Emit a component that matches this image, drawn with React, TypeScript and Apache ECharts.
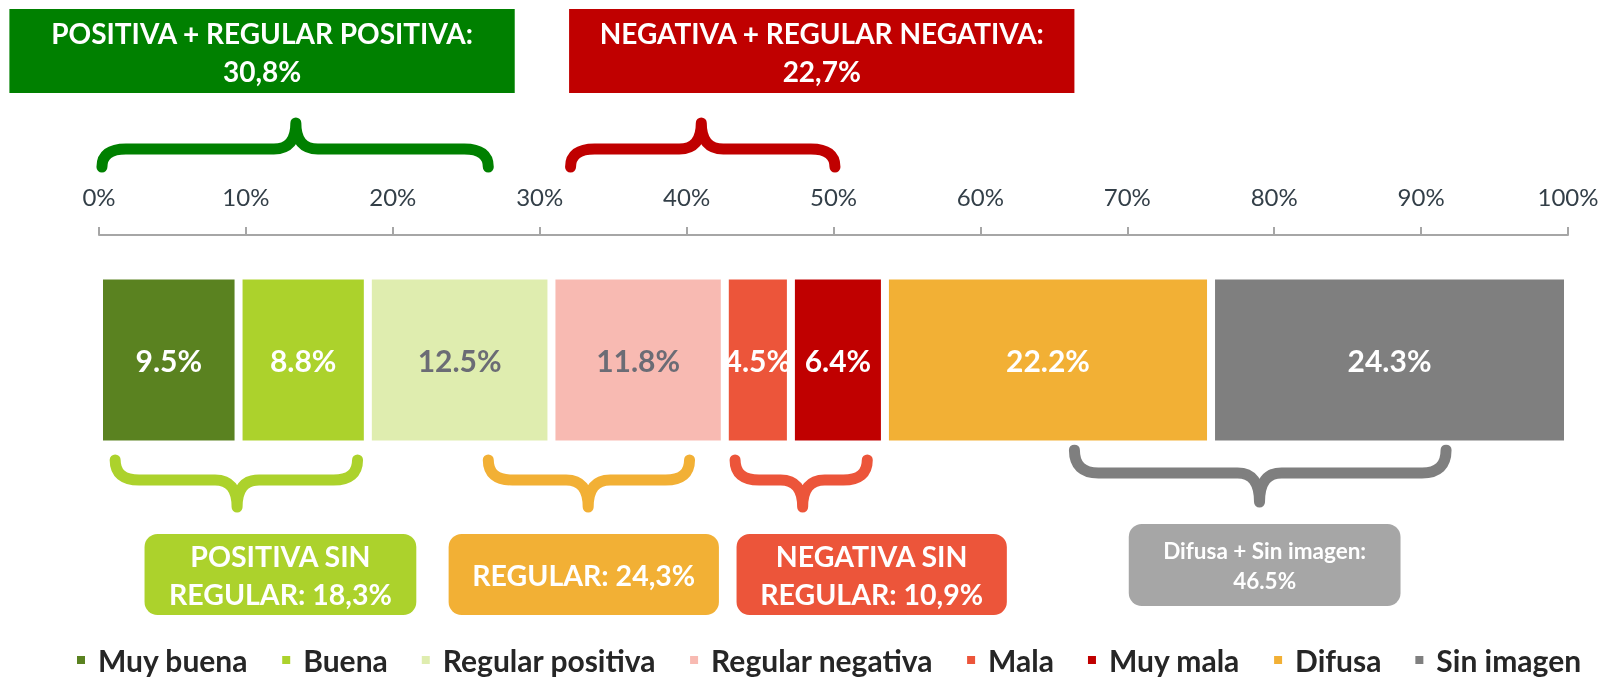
import React, { useEffect, useRef } from "react";
import * as echarts from "echarts";

const categories = ["Muy buena", "Buena", "Regular positiva", "Regular negativa", "Mala", "Muy mala", "Difusa", "Sin imagen"];
const values = [9.5, 8.8, 12.5, 11.8, 4.5, 6.4, 22.2, 24.3];
const colors = ["#5a8220", "#acd22c", "#dfedaf", "#f8bab2", "#ec553a", "#c00000", "#f2b035", "#7f7f7f"];
const labelColors = ["#ffffff", "#ffffff", "#6b6c75", "#6b6c75", "#ffffff", "#ffffff", "#ffffff", "#ffffff"];

// Callouts above the axis (brace spans and box spans in % of axis)
const topTexts = ["POSITIVA + REGULAR POSITIVA:\n30,8%", "NEGATIVA + REGULAR NEGATIVA:\n22,7%"];
const topColors = ["#008000", "#c00000"];
const topBraceFrom = [0.2, 32.1];
const topBraceTo = [26.5, 50.1];
const topBraceTip = [13.4, 41.0];
const topBoxFrom = [-6.1, 32.0];
const topBoxTo = [28.3, 66.4];

// Callouts below the bar
const bottomTexts = ["POSITIVA SIN\nREGULAR: 18,3%", "REGULAR: 24,3%", "NEGATIVA SIN\nREGULAR: 10,9%", "Difusa + Sin imagen:\n46.5%"];
const bottomColors = ["#acd22c", "#f2b035", "#ec553a", "#a6a6a6"];
const bottomBraceColors = ["#acd22c", "#f2b035", "#ec553a", "#7f7f7f"];
const bottomBraceFrom = [1.1, 26.5, 43.3, 66.4];
const bottomBraceTo = [17.6, 40.2, 52.3, 91.7];
const bottomBraceTip = [9.4, 33.3, 47.9, 79.0];
const bottomBoxFrom = [3.1, 23.8, 43.4, 70.1];
const bottomBoxTo = [21.6, 42.2, 61.8, 88.6];

const FONT = "Lato";

function bracePath(x0: number, x1: number, xt: number, yEnd: number, yBar: number, yTip: number, r: number, rt: number) {
  return (
    `M${x0},${yEnd} Q${x0},${yBar} ${x0 + r},${yBar} L${xt - rt},${yBar} Q${xt},${yBar} ${xt},${yTip} ` +
    `M${xt},${yTip} Q${xt},${yBar} ${xt + rt},${yBar} L${x1 - r},${yBar} Q${x1},${yBar} ${x1},${yEnd}`
  );
}

export default function App() {
  const ref = useRef<HTMLDivElement>(null);
  useEffect(() => {
    if (!ref.current) return;
    const chart = echarts.init(ref.current, null, { renderer: "svg" });
    const series = categories.map((name, i) => ({
      name,
      type: "bar",
      stack: "total",
      barWidth: 169,
      data: [values[i]],
      itemStyle: { color: colors[i], borderColor: "#ffffff", borderWidth: 4 },
      label: {
        show: true,
        position: "inside",
        formatter: "{c}%",
        fontFamily: FONT,
        fontWeight: "bold",
        fontSize: 30,
        color: labelColors[i],
      },
    }));
    chart.setOption({
      animation: false,
      grid: { left: 99, right: 34, top: 235, height: 250 },
      xAxis: {
        type: "value",
        position: "top",
        min: 0,
        max: 100,
        interval: 10,
        axisLine: { show: true, lineStyle: { color: "#a6a6a6", width: 2 } },
        axisTick: { show: true, length: 8, lineStyle: { color: "#a6a6a6", width: 2 } },
        splitLine: { show: false },
        axisLabel: { formatter: "{value}%", fontFamily: FONT, fontSize: 24, color: "#333f48", margin: 27 },
      },
      yAxis: { type: "category", data: [""], show: false },
      legend: {
        data: categories,
        left: 75,
        right: 0,
        top: 644,
        padding: 0,
        icon: "rect",
        itemWidth: 10,
        itemHeight: 10,
        itemGap: 32,
        textStyle: { fontFamily: FONT, fontWeight: "bold", fontSize: 30, lineHeight: 32, color: "#262626", padding: [0, 0, 0, 7] },
      },
      series,
    });

    const px = (v: number) => chart.convertToPixel({ xAxisIndex: 0 }, v) as number;
    const elements: any[] = [];
    const braceStyle = (c: string) => ({ fill: "none", stroke: c, lineWidth: 11, lineCap: "round", lineJoin: "round" });

    topTexts.forEach((t, i) => {
      const name = `braceTop${i}`;
      echarts.graphic.registerShape(
        name,
        echarts.graphic.extendPath(bracePath(px(topBraceFrom[i]), px(topBraceTo[i]), px(topBraceTip[i]), 167, 149, 123, 24, 22), {})
      );
      elements.push({ type: name, style: braceStyle(topColors[i]) });
      const x0 = px(topBoxFrom[i]);
      const x1 = px(topBoxTo[i]);
      elements.push({ type: "rect", shape: { x: x0, y: 9, width: x1 - x0, height: 84 }, style: { fill: topColors[i] } });
      elements.push({
        type: "text",
        style: {
          text: t, x: (x0 + x1) / 2, y: 52, align: "center", verticalAlign: "middle",
          fill: "#ffffff", fontFamily: FONT, fontWeight: "bold", fontSize: 28, lineHeight: 38,
        },
      });
    });

    bottomTexts.forEach((t, i) => {
      const name = `braceBottom${i}`;
      const gray = i === 3;
      const yEnd = gray ? 450 : 460;
      const yBar = gray ? 473 : 480;
      const yTip = gray ? 502 : 507;
      echarts.graphic.registerShape(
        name,
        echarts.graphic.extendPath(bracePath(px(bottomBraceFrom[i]), px(bottomBraceTo[i]), px(bottomBraceTip[i]), yEnd, yBar, yTip, 24, 22), {})
      );
      elements.push({ type: name, style: braceStyle(bottomBraceColors[i]) });
      const x0 = px(bottomBoxFrom[i]);
      const x1 = px(bottomBoxTo[i]);
      const y0 = gray ? 524 : 534;
      const h = gray ? 82 : 81;
      elements.push({ type: "rect", shape: { x: x0, y: y0, width: x1 - x0, height: h, r: 13 }, style: { fill: bottomColors[i] } });
      elements.push({
        type: "text",
        style: {
          text: t, x: (x0 + x1) / 2, y: y0 + h / 2, align: "center", verticalAlign: "middle",
          fill: "#ffffff", fontFamily: FONT, fontWeight: "bold", fontSize: gray ? 22.5 : 28.5, lineHeight: gray ? 30 : 38,
        },
      });
    });

    chart.setOption({ graphic: { elements } });
    return () => chart.dispose();
  }, []);
  return <div ref={ref} style={{ position: "fixed", left: 0, top: 0, width: 1602, height: 679 }} />;
}
